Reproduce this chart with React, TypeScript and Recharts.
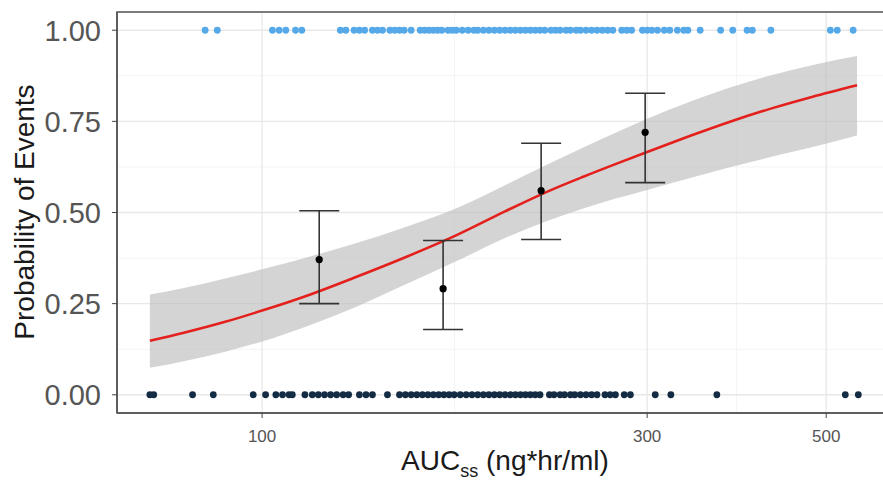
import React from "react";
import {
  ComposedChart,
  Area,
  Line,
  Scatter,
  ErrorBar,
  XAxis,
  YAxis,
  CartesianGrid,
  ReferenceArea,
} from "recharts";

// logistic fit (AUC, fitted probability, 95% band)
const curveX = [72.6, 80, 90, 100, 115, 130, 150, 175, 200, 225, 250, 275, 300, 340, 380, 430, 480, 546];
const curveFit = [0.148, 0.17, 0.2, 0.231, 0.276, 0.321, 0.376, 0.44, 0.503, 0.556, 0.598, 0.634, 0.666, 0.711, 0.749, 0.787, 0.817, 0.849];
const curveLow = [0.074, 0.092, 0.118, 0.146, 0.192, 0.239, 0.301, 0.369, 0.43, 0.476, 0.511, 0.539, 0.562, 0.595, 0.624, 0.654, 0.679, 0.711];
const curveHigh = [0.275, 0.293, 0.319, 0.344, 0.38, 0.414, 0.459, 0.514, 0.575, 0.63, 0.678, 0.72, 0.757, 0.805, 0.843, 0.878, 0.904, 0.929];

// observed proportions by AUC bin
const binX = [117.7, 167.6, 221.7, 298.3];
const binProb = [0.371, 0.291, 0.56, 0.72];
const binLow = [0.25, 0.179, 0.426, 0.582];
const binHigh = [0.505, 0.423, 0.69, 0.827];

// individual subjects
const eventX = [
  85, 88, 103, 105, 107, 110, 112, 125, 127, 130, 132, 134, 137, 139, 141, 144, 146, 148, 150,
  153, 157, 159, 161, 163, 165, 167, 170, 172, 174, 177, 180, 183, 185, 188, 191, 194, 197, 200,
  203, 206, 209, 212, 215, 218, 221, 224, 228, 231, 234, 238, 241, 245, 248, 252, 256, 260, 264,
  268, 272, 279, 283, 287, 296, 300, 304, 309, 315, 320, 327, 333, 337, 349, 370, 383, 399, 405,
  427, 506, 516, 540,
];
const noEventX = [
  72.6, 73.4, 82, 87, 97.5, 101, 104, 106, 108, 109, 113, 115.4, 117.4, 119.5, 121.6, 123.7, 126,
  128, 132, 134.5, 137, 143, 148, 150.5, 153, 155.5, 158, 160.5, 163, 165.5, 168, 170.5, 173, 176,
  179, 182, 185, 188, 191, 194, 197, 200, 203, 206, 209, 212, 215, 218, 221, 227, 230, 234, 237,
  241, 244, 248, 252, 256, 260, 266, 270, 274, 281, 286, 307, 321, 366, 528, 548,
];

const xTicks = [100, 300, 500];
const xMinor = [173.2, 387.3];
const yTicks = [0, 0.25, 0.5, 0.75, 1];
const yMinor = [0.125, 0.375, 0.625, 0.875];

const X_DOMAIN: [number, number] = [66.1, 605];
const Y_DOMAIN: [number, number] = [-0.05, 1.05];

const curve = curveX.map((x, i) => ({
  x,
  fit: curveFit[i],
  band: [curveLow[i], curveHigh[i]],
}));
const bins = binX.map((x, i) => ({
  x,
  y: binProb[i],
  err: [binProb[i] - binLow[i], binHigh[i] - binProb[i]],
}));
const events = eventX.map((x) => ({ x, y: 1 }));
const noEvents = noEventX.map((x) => ({ x, y: 0 }));

const font = "'Liberation Sans', Arial, sans-serif";

const dot = (color: string, r: number) => (p: any) =>
  <circle cx={p.cx} cy={p.cy} r={r} fill={color} />;

export default function App() {
  return (
    <div
      style={{
        position: "absolute",
        left: 0,
        top: 0,
        width: 883,
        height: 480,
        overflow: "hidden",
        background: "#fff",
        fontFamily: font,
      }}
    >
      <ComposedChart
        width={940}
        height={480}
        data={curve}
        margin={{ top: 12, right: 47, bottom: 0, left: 0 }}
      >
        <XAxis xAxisId="minor" dataKey="x" type="number" scale="log" domain={X_DOMAIN} ticks={xMinor} allowDataOverflow hide />
        <YAxis yAxisId="minor" type="number" domain={Y_DOMAIN} ticks={yMinor} allowDataOverflow hide />
        <CartesianGrid xAxisId="minor" yAxisId="minor" stroke="#f3f3f3" strokeWidth={1} />
        <CartesianGrid stroke="#e8e8e8" strokeWidth={1.3} />
        <XAxis
          dataKey="x"
          type="number"
          scale="log"
          domain={X_DOMAIN}
          ticks={xTicks}
          allowDataOverflow
          height={67}
          tickSize={5}
          tickMargin={12}
          tick={{ fontSize: 17, fill: "#555", fontFamily: font }}
          tickLine={{ stroke: "#444" }}
          axisLine={{ stroke: "#555", strokeWidth: 1.5 }}
        />
        <YAxis
          dataKey="y"
          type="number"
          domain={Y_DOMAIN}
          ticks={yTicks}
          allowDataOverflow
          width={117}
          tickSize={5}
          tickMargin={11}
          tickFormatter={(v: number) => v.toFixed(2)}
          tick={{ fontSize: 29, fill: "#555", fontFamily: font }}
          tickLine={{ stroke: "#444" }}
          axisLine={{ stroke: "#555", strokeWidth: 1.5 }}
        />
        <ReferenceArea
          x1={X_DOMAIN[0]}
          x2={X_DOMAIN[1]}
          y1={Y_DOMAIN[0]}
          y2={Y_DOMAIN[1]}
          fill="none"
          stroke="#555"
          strokeWidth={1.5}
          ifOverflow="visible"
        />
        <Scatter data={events} fill="#56a9e8" shape={dot("#56a9e8", 3.4)} isAnimationActive={false} />
        <Scatter data={noEvents} fill="#132b43" shape={dot("#132b43", 3.4)} isAnimationActive={false} />
        <Area
          dataKey="band"
          type="monotone"
          stroke="none"
          fill="#bdbdbd"
          fillOpacity={0.65}
          isAnimationActive={false}
        />
        <Line
          dataKey="fit"
          type="monotone"
          stroke="#e3201c"
          strokeWidth={2.6}
          dot={false}
          isAnimationActive={false}
        />
        <Scatter data={bins} fill="#000" shape={dot("#000", 3.6)} isAnimationActive={false}>
          <ErrorBar dataKey="err" direction="y" width={20} stroke="#333" strokeWidth={1.6} />
        </Scatter>
      </ComposedChart>
      <div
        style={{
          position: "absolute",
          left: 25,
          top: 212,
          transform: "translate(-50%, -50%) rotate(-90deg)",
          whiteSpace: "nowrap",
          fontSize: 28,
          lineHeight: 1,
          color: "#1a1a1a",
        }}
      >
        Probability of Events
      </div>
      <div
        style={{
          position: "absolute",
          left: 505,
          top: 447,
          transform: "translateX(-50%)",
          whiteSpace: "nowrap",
          fontSize: 28,
          lineHeight: 1,
          color: "#1a1a1a",
        }}
      >
        AUC
        <span style={{ fontSize: 18, position: "relative", top: 7 }}>ss</span> (ng*hr/ml)
      </div>
    </div>
  );
}
